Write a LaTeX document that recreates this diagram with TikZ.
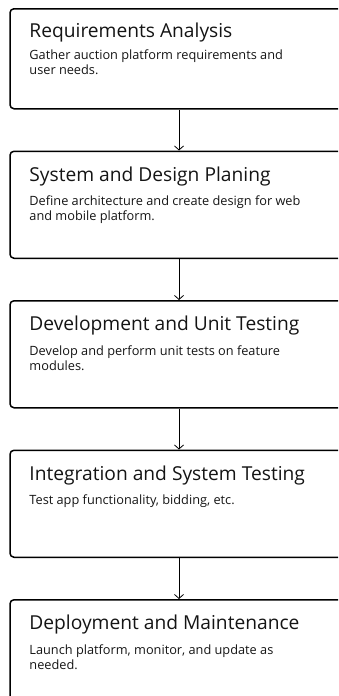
\documentclass[tikz,border=0pt]{standalone}
\usepackage{fontspec}
\setmainfont{Open Sans}
\usetikzlibrary{arrows.meta,positioning}
\definecolor{ink}{HTML}{141414}
% description text, baseline on its first line
\newcommand{\phasetext}[1]{\parbox[t]{310pt}{\raggedright #1}}
\tikzset{
    stage/.style={
           rectangle,
           rounded corners=4pt,
           draw=black, line width=1.5pt,
           minimum width=338pt,
           minimum height=107pt
           },
    head/.style={
           anchor=base west,
           inner sep=0pt,
           text=ink,
           font=\fontsize{19.2}{23}\selectfont
           },
    note/.style={
           anchor=base west,
           inner sep=0pt,
           text=ink,
           font=\fontsize{12.75}{15.2}\selectfont
           }
}

\begin{document}
\begin{tikzpicture}[>={Straight Barb[length=4pt,width=9pt]}, node distance=41pt]
   \useasboundingbox (0,0) rectangle (338pt,-696pt);
   \clip (0,0) rectangle (338pt,-696pt);
   % phase boxes, top to bottom
   \node[stage, anchor=north, minimum height=100pt] (req) at (179pt,-8pt) {};
   \node[stage, below=of req]    (design) {};
   \node[stage, below=of design] (dev)    {};
   \node[stage, below=of dev]    (integ)  {};
   \node[stage, below=of integ]  (deploy) {};
   % titles and descriptions
   \node[head] (reqtitle)    at ([shift={(20pt,-29.5pt)}]req.north west)    {Requirements Analysis};
   \node[note] (reqtext)     at ([shift={(20pt,-51.5pt)}]req.north west)    {\phasetext{Gather auction platform requirements and\\user needs.}};
   \node[head] (designtitle) at ([shift={(20pt,-30.5pt)}]design.north west) {System and Design Planing};
   \node[note] (designtext)  at ([shift={(20pt,-55pt)}]design.north west) {\phasetext{Define architecture and create design for web\\and mobile platform.}};
   \node[head] (devtitle)    at ([shift={(20pt,-30.5pt)}]dev.north west)    {Development and Unit Testing};
   \node[note] (devtext)     at ([shift={(20pt,-55pt)}]dev.north west)    {\phasetext{Develop and perform unit tests on feature\\modules.}};
   \node[head] (integtitle)  at ([shift={(20pt,-30.5pt)}]integ.north west)  {Integration and System Testing};
   \node[note] (integtext)   at ([shift={(20pt,-55pt)}]integ.north west)  {\phasetext{Test app functionality, bidding, etc.}};
   \node[head] (deploytitle) at ([shift={(20pt,-30.5pt)}]deploy.north west) {Deployment and Maintenance};
   \node[note] (deploytext)  at ([shift={(20pt,-55pt)}]deploy.north west) {\phasetext{Launch platform, monitor, and update as\\needed.}};
   % flow between phases
   \path[->, line width=0.8pt]
    (req)    edge (design)
    (design) edge (dev)
    (dev)    edge (integ)
    (integ)  edge (deploy)
    ;
\end{tikzpicture}
\end{document}
